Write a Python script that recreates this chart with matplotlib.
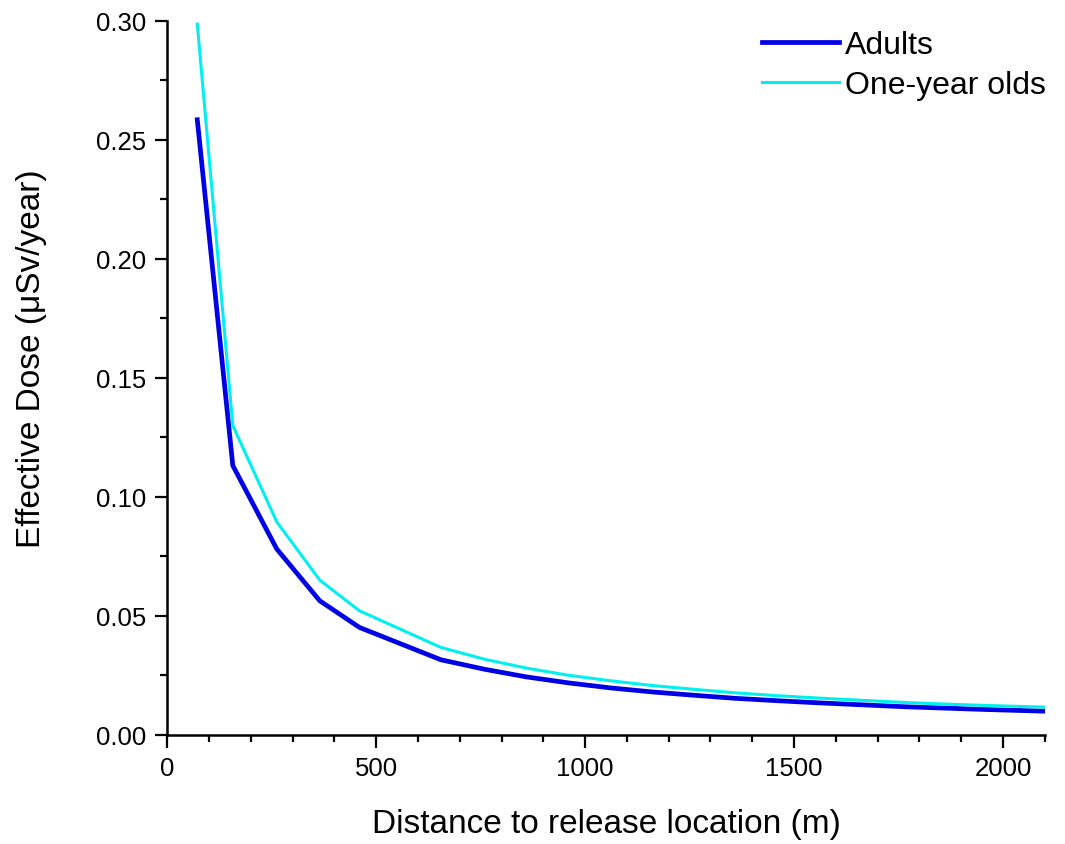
import matplotlib
matplotlib.use("Agg")
import matplotlib.pyplot as plt
from matplotlib.ticker import MultipleLocator, FormatStrFormatter

distance = [72, 157, 262, 365, 460, 655, 760, 860, 960, 1060, 1160, 1260, 1360,
            1460, 1560, 1660, 1760, 1860, 1960, 2100]
adults = [0.2585, 0.1132, 0.0782, 0.0564, 0.0452, 0.0316, 0.0276, 0.0244, 0.0219,
          0.0198, 0.0181, 0.0167, 0.0154, 0.0144, 0.0135, 0.0127, 0.0119, 0.0113,
          0.0107, 0.0100]
one_year = [0.2987, 0.1300, 0.0896, 0.0651, 0.0522, 0.0368, 0.0318, 0.0281, 0.0251,
            0.0228, 0.0208, 0.0192, 0.0177, 0.0165, 0.0155, 0.0146, 0.0137, 0.0130,
            0.0124, 0.0117]

plt.rcParams['font.family'] = ['Liberation Sans', 'DejaVu Sans']

fig = plt.figure(figsize=(10.65, 8.45), dpi=100)
ax = fig.add_axes([0.157, 0.129, 0.824, 0.845])

ax.plot(distance, adults, color='#0000e6', lw=3.4, label='Adults', solid_joinstyle='round')
ax.plot(distance, one_year, color='#00f0f0', lw=2.2, label='One-year olds', solid_joinstyle='round')

ax.set_xlim(0, 2100)
ax.set_ylim(0, 0.30)
ax.xaxis.set_major_locator(MultipleLocator(500))
ax.xaxis.set_minor_locator(MultipleLocator(100))
ax.yaxis.set_major_locator(MultipleLocator(0.05))
ax.yaxis.set_minor_locator(MultipleLocator(0.025))
ax.yaxis.set_major_formatter(FormatStrFormatter('%.2f'))

for s in ['top', 'right']:
    ax.spines[s].set_visible(False)
for s in ['left', 'bottom']:
    ax.spines[s].set_linewidth(1.8)

ax.tick_params(which='major', direction='out', length=9, width=1.6, labelsize=18.5, pad=6)
ax.tick_params(which='minor', direction='out', length=5, width=1.6)

ax.set_xlabel('Distance to release location (m)', fontsize=24, labelpad=20)
ax.set_ylabel('Effective Dose (\u03bcSv/year)', fontsize=24)
ax.yaxis.set_label_coords(-0.137, 0.529)

ax.legend(loc='upper right', frameon=False, fontsize=23, handlelength=2.4,
          handletextpad=0.2, labelspacing=0.3, borderaxespad=0.0,
          bbox_to_anchor=(1.016, 1.005))

fig.savefig('out.png', dpi=100)
